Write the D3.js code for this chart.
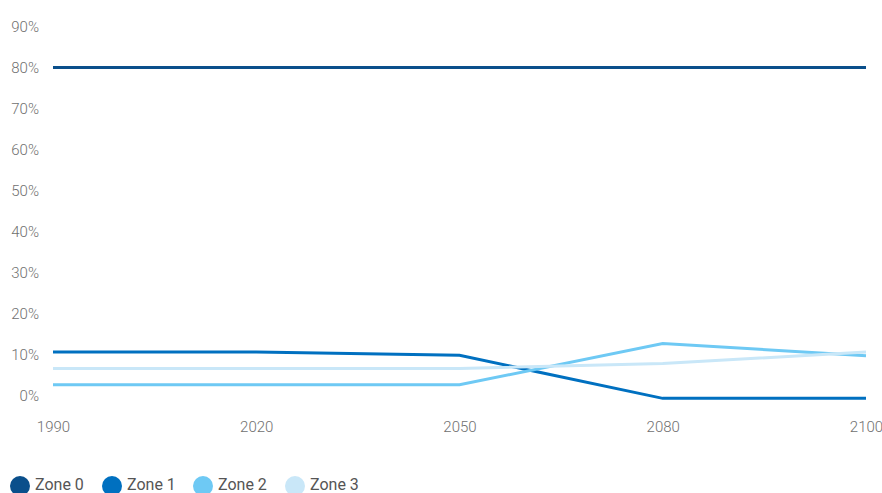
<!DOCTYPE html>
<html>
<head>
<meta charset="utf-8">
<script src="https://cdn.jsdelivr.net/npm/d3@7/dist/d3.min.js"></script>
<style>
html,body{margin:0;padding:0;background:#fff;}
svg{display:block;font-family:Roboto,"Noto Sans",sans-serif;}
</style>
</head>
<body>
<svg id="chart" width="882" height="493"></svg>
<script>
const years = ["1990", "2020", "2050", "2080", "2100"];
const seriesNames = ["Zone 0", "Zone 1", "Zone 2", "Zone 3"];
const zone0 = [80, 80, 80, 80, 80];
const zone1 = [10.6, 10.6, 9.8, -0.7, -0.7];
const zone2 = [2.6, 2.6, 2.6, 12.7, 9.7];
const zone3 = [6.6, 6.6, 6.6, 7.8, 10.6];
const yTicks = [0, 10, 20, 30, 40, 50, 60, 70, 80, 90];
const colors = ["#0a4f8b", "#0070c0", "#6ec9f4", "#c9e7f8"];

const seriesValues = [zone0, zone1, zone2, zone3];

const svg = d3.select("#chart");
const x = d3.scalePoint().domain(years).range([53, 866]);
const y = d3.scaleLinear().domain([0, 90]).range([395.5, 26.5]);

// Y axis labels
const yAxis = d3.axisLeft(y).tickValues(yTicks).tickSize(0).tickPadding(0)
  .tickFormat(d => d + "%");
const gy = svg.append("g").attr("transform", "translate(39,0)").call(yAxis);
gy.select(".domain").remove();
gy.selectAll("text").attr("fill", "#707070").style("font-size", "15px")
  .style("font-family", "Roboto, sans-serif").style("font-weight", "300");

// X axis labels
const xAxis = d3.axisBottom(x).tickSize(0).tickPadding(0);
const gx = svg.append("g").attr("transform", "translate(0,421)").call(xAxis);
gx.select(".domain").remove();
gx.selectAll("text").attr("fill", "#707070").style("font-size", "15px")
  .style("font-family", "Roboto, sans-serif").style("font-weight", "300");

// Lines
const line = d3.line().x((d, i) => x(years[i])).y(d => y(d));
seriesValues.forEach((vals, k) => {
  svg.append("path")
    .datum(vals)
    .attr("d", line)
    .attr("fill", "none")
    .attr("stroke", colors[k])
    .attr("stroke-width", 3);
});

// Legend
const legendX = [20, 112, 203, 295];
const lg = svg.append("g");
seriesNames.forEach((name, k) => {
  lg.append("circle").attr("cx", legendX[k]).attr("cy", 486).attr("r", 10).attr("fill", colors[k]);
  lg.append("text").attr("x", legendX[k] + 15).attr("y", 486)
    .attr("dominant-baseline", "middle")
    .attr("fill", "#555")
    .style("font-size", "16px")
    .style("font-family", "Roboto, sans-serif")
    .text(name);
});
</script>
</body>
</html>
